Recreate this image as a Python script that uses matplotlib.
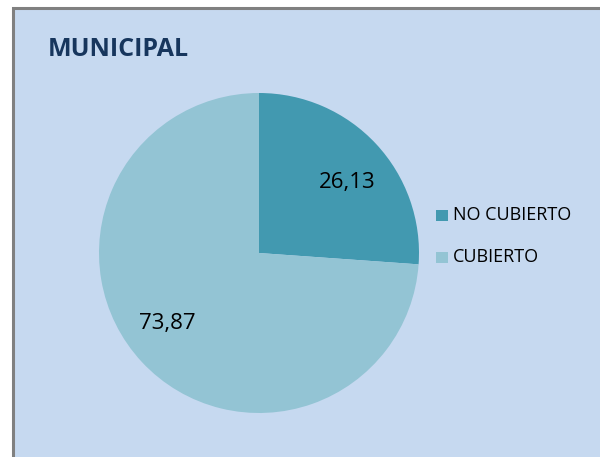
import numpy as np
import matplotlib.pyplot as plt
from matplotlib.patches import Rectangle

title = 'MUNICIPAL'
categories = ['NO CUBIERTO', 'CUBIERTO']
values = [26.13, 73.87]
value_labels = ['26,13', '73,87']
colors = ['#4299B0', '#93C4D4']

W, H = 600, 457
fig = plt.figure(figsize=(W / 100, H / 100), dpi=100)
fig.patch.set_facecolor('white')

# chart area, grey border visible only on top/left
bg = Rectangle((13 / W, -0.05), 1.1, 1.05 - 8 / H, transform=fig.transFigure,
               facecolor='#C6D9F0', edgecolor='#808080', linewidth=2.2, zorder=-5)
fig.patches.append(bg)

cx, cy, r = 259, 253, 160
ax = fig.add_axes([(cx - r) / W, (H - cy - r) / H, 2 * r / W, 2 * r / H])
ax.set_zorder(2)
ax.set_facecolor('none')
wedges, _ = ax.pie(values, colors=colors, startangle=90, counterclock=False,
                   radius=1, wedgeprops=dict(linewidth=0))
ax.set_xlim(-1, 1)
ax.set_ylim(-1, 1)
ax.set_aspect('equal')
ax.axis('off')

# data labels, positions relative to the pie centre
label_pos = [(0.55, 0.44), (-0.57, -0.44)]
for (lx, ly), lab in zip(label_pos, value_labels):
    ax.text(lx, ly, lab, ha='center', va='center',
            fontsize=16, family='Open Sans', color='black')

fig.text(48 / W, 1 - 50 / H, title, fontsize=18, fontweight='bold',
         family='Open Sans', color='#17365D', va='center', ha='left')

leg_y = [215, 257]
for c, lab, y in zip(colors, categories, leg_y):
    fig.patches.append(Rectangle((436 / W, 1 - (y + 6) / H), 12 / W, 11 / H,
                                 transform=fig.transFigure, facecolor=c,
                                 edgecolor='none'))
    fig.text(453 / W, 1 - y / H, lab, fontsize=13, family='Open Sans',
             color='black', va='center', ha='left')

fig.savefig('out.png', dpi=100)
